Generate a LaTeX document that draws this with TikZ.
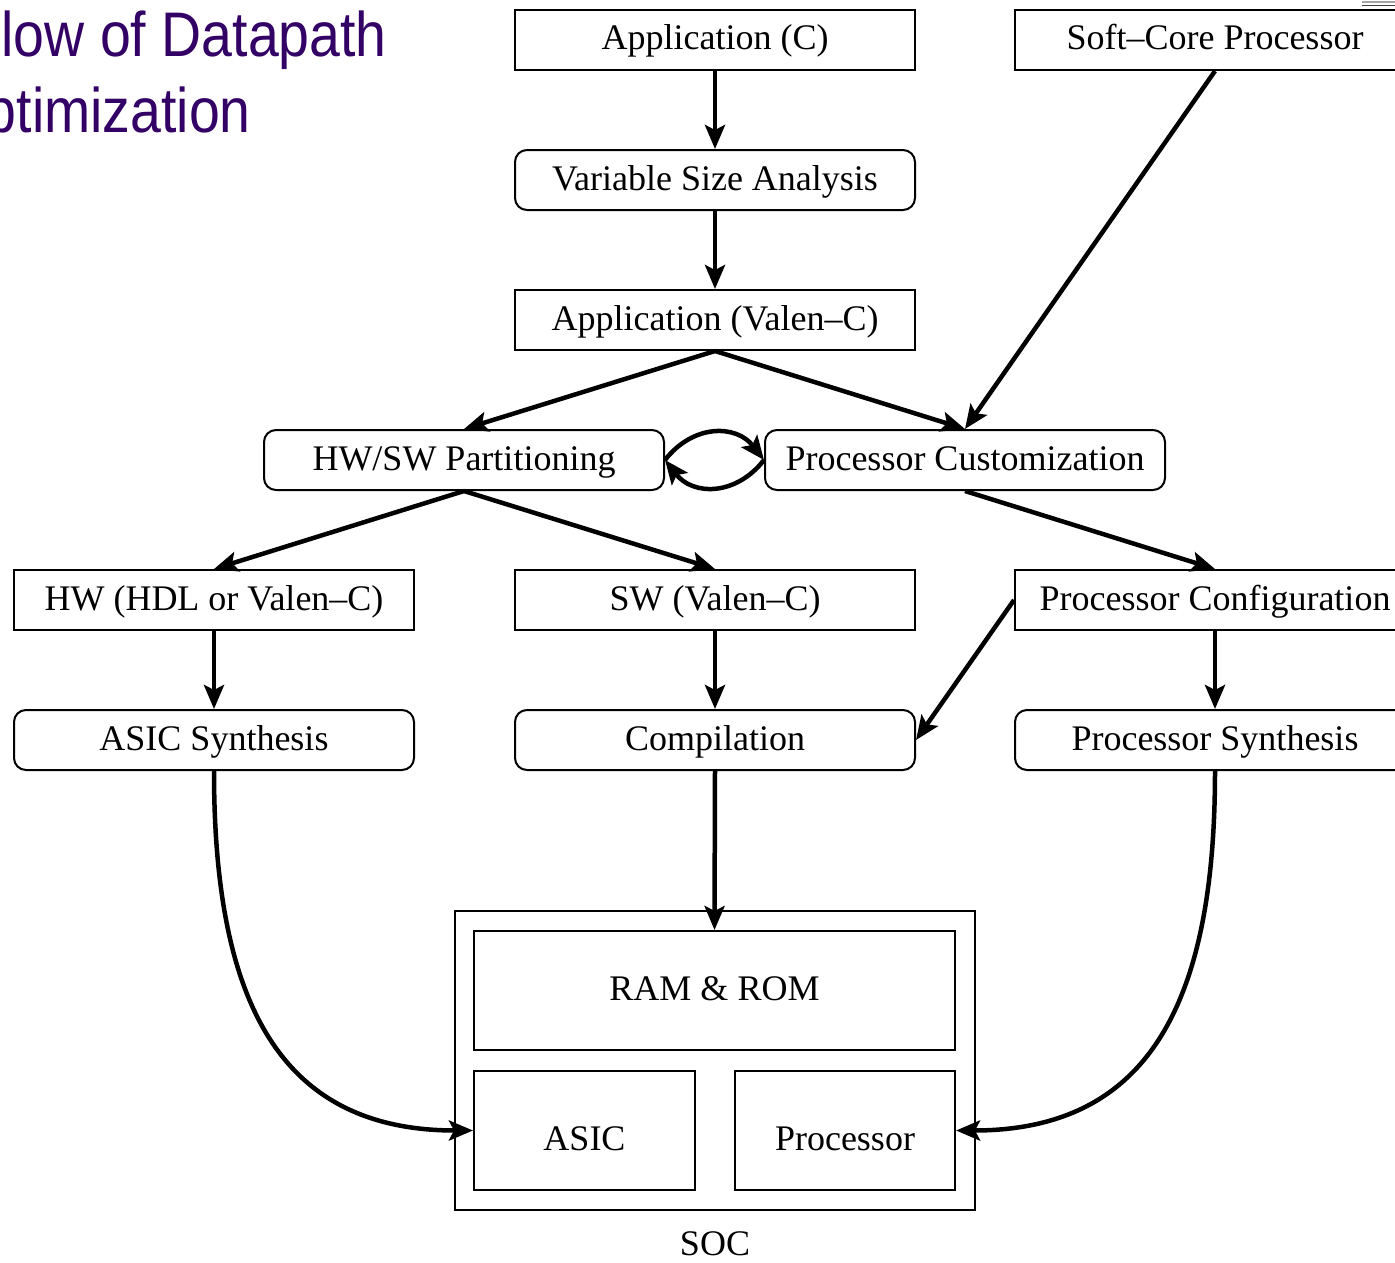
\documentclass[tikz,border=0pt]{standalone}
\usepackage{fontspec}
\setmainfont{Liberation Serif}
\newfontfamily\headfont[FakeStretch=0.88]{Liberation Sans}
\usetikzlibrary{arrows.meta}
\definecolor{headpurple}{RGB}{51,0,102}
\begin{document}
\begin{tikzpicture}[x=1pt,y=-1pt,
  txt/.style={font=\fontsize{36}{40}\selectfont},
  sqbox/.style={txt, draw, line width=2pt, minimum width=400pt, minimum height=60pt,
    inner sep=0pt, text height=28pt, text depth=8pt},
  rdbox/.style={sqbox, rounded corners=12pt},
  socbox/.style={txt, draw, line width=2pt, inner sep=0pt, text height=28pt, text depth=8pt},
  lowtext/.style={text height=47pt, text depth=8pt},
  head/.style={anchor=base east, inner sep=0pt, text=headpurple, font=\headfont\fontsize{63}{70}\selectfont},
  arr/.style={line width=4.5pt, -{Stealth[length=24pt,width=20pt,inset=5pt]}}]
\useasboundingbox (0,0) rectangle (1395,1263);
\clip (0,0) rectangle (1395,1263);

% heading
\node[head] (title1) at (387,57) {Flow of Datapath};
\node[head] (title2) at (251,132) {Optimization};

% remnant of a rule in the top right corner
\draw[line width=1.5pt, black!35] (1362,2) -- (1395,2);
\draw[line width=1.5pt, black!75] (1362,5.5) -- (1395,5.5);

% flow boxes
\node[sqbox] (app)   at (715,40)  {Application (C)};
\node[sqbox] (soft)  at (1215,40) {Soft–Core Processor};
\node[rdbox] (vsa)   at (715,180) {Variable Size Analysis};
\node[sqbox] (appv)  at (715,320) {Application (Valen–C)};
\node[rdbox] (part)  at (464,460) {HW/SW Partitioning};
\node[rdbox] (cust)  at (965,460) {Processor Customization};
\node[sqbox] (hw)    at (214,600) {HW (HDL or Valen–C)};
\node[sqbox] (sw)    at (715,600) {SW (Valen–C)};
\node[sqbox] (conf)  at (1215,600) {Processor Configuration};
\node[rdbox] (asyn)  at (214,740) {ASIC Synthesis};
\node[rdbox] (comp)  at (715,740) {Compilation};
\node[rdbox] (psyn)  at (1215,740) {Processor Synthesis};

% system on chip
\node[socbox, minimum width=520pt, minimum height=299pt] (soc) at (715,1060.5) {};
\node[socbox, minimum width=481pt, minimum height=119pt] (ram) at (714.5,990.5) {RAM \& ROM};
\node[socbox, lowtext, minimum width=221pt, minimum height=119pt] (asic) at (584.5,1130.5) {ASIC};
\node[socbox, lowtext, minimum width=220pt, minimum height=119pt] (proc) at (845,1130.5) {Processor};
\node[txt, inner sep=0pt, anchor=base] (soclabel) at (715,1255) {SOC};

% connectors
\draw[arr] (app) -- (vsa);
\draw[arr] (vsa) -- (appv);
\draw[arr] (appv.south) -- (part.north);
\draw[arr] (appv.south) -- (cust.north);
\draw[arr] (soft.south) -- (cust.north);
\draw[arr] (part.east) .. controls +(28,-36) and +(-28,-36) .. (cust.west);
\draw[arr] (cust.west) .. controls +(-28,36) and +(28,36) .. (part.east);
\draw[arr] (part.south) -- (hw.north);
\draw[arr] (part.south) -- (sw.north);
\draw[arr] (cust.south) -- (conf.north);
\draw[arr] (hw) -- (asyn);
\draw[arr] (sw) -- (comp);
\draw[arr] (conf) -- (psyn);
\draw[arr] (conf.west) -- (comp.east);
\draw[arr] (comp.south) -- (ram.north);
\draw[arr] (asyn.south) .. controls +(0,230) and +(-194,0) .. (asic.west);
\draw[arr] (psyn.south) .. controls +(0,230) and +(194,0) .. (proc.east);
\end{tikzpicture}
\end{document}
